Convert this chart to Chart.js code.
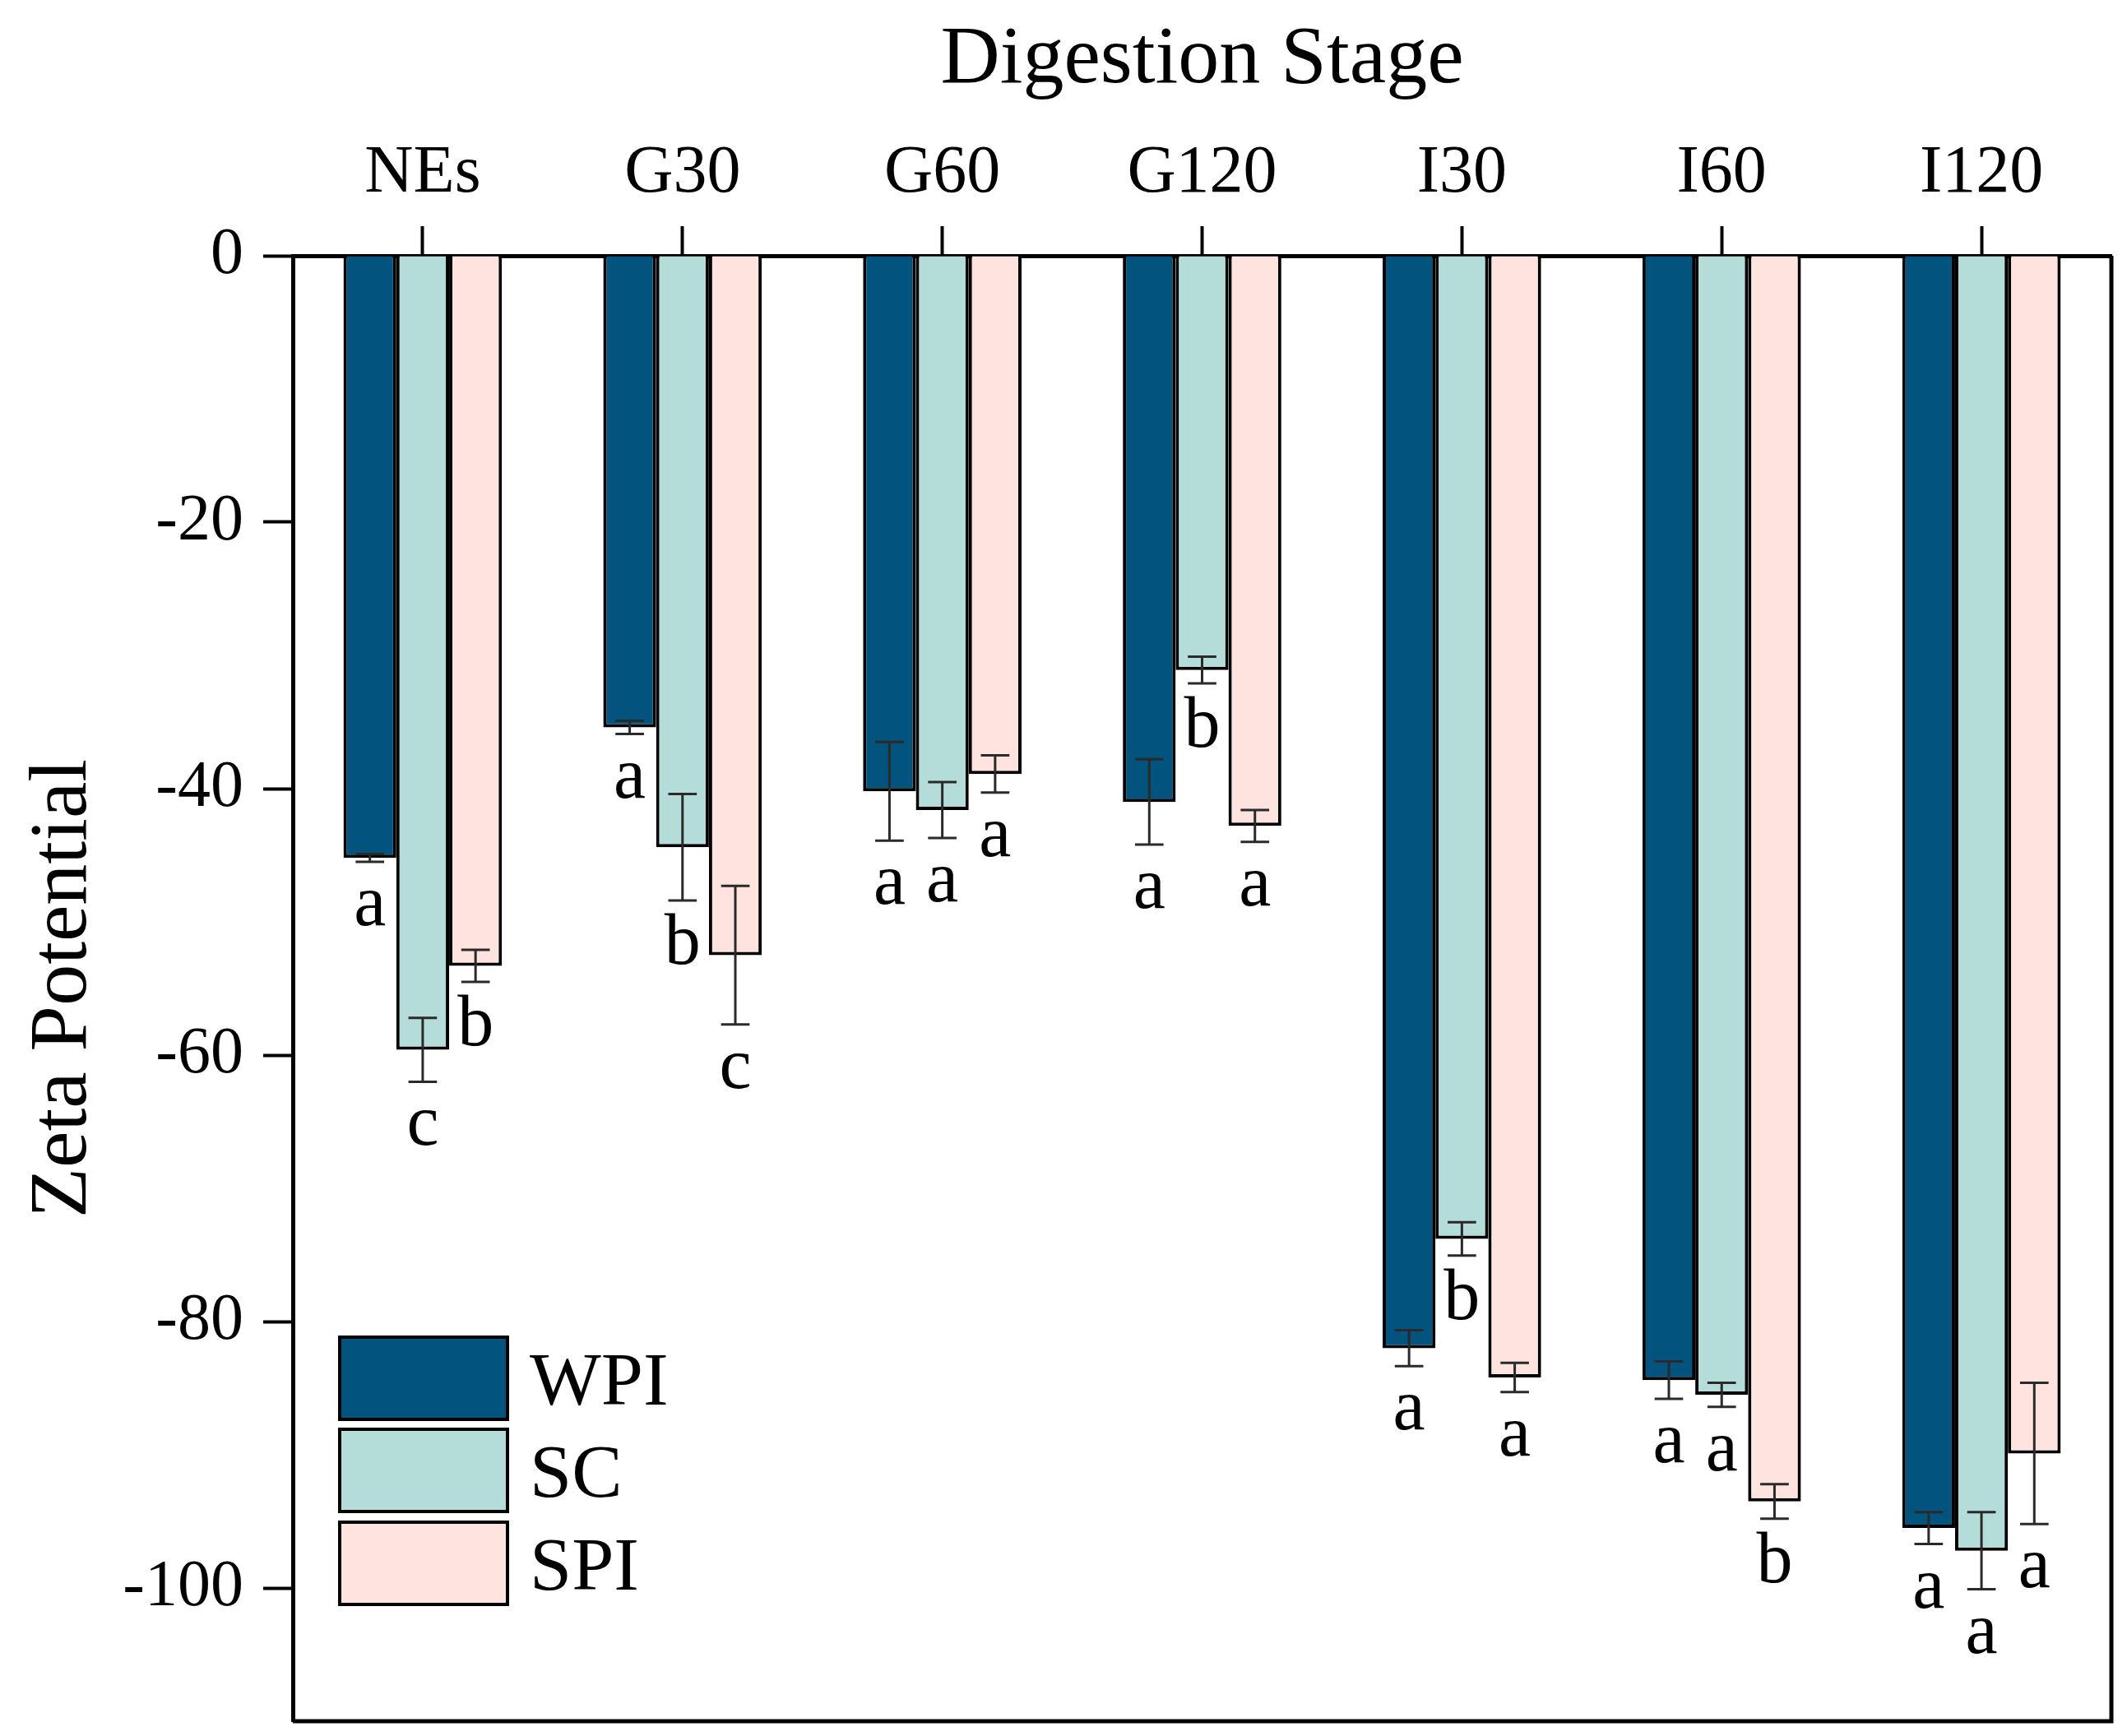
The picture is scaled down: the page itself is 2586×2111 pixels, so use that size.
<!DOCTYPE html>
<html>
<head>
<meta charset="utf-8">
<script src="https://cdn.jsdelivr.net/npm/chart.js@4.4.0/dist/chart.umd.min.js"></script>
<style>
  html, body { margin: 0; padding: 0; background: #fff; }
  canvas { display: block; }
</style>
</head>
<body>
<canvas id="myChart" width="2586" height="2111" style="width:2586px;height:2111px"></canvas>
<script>
'use strict'

// digestion stages
const stages = ['NEs', 'G30', 'G60', 'G120', 'I30', 'I60', 'I120'];

// zeta potential (mean)
const wpiValues = [-45.2, -35.4, -40.2, -41.0, -82.0, -84.4, -95.5];
const scValues = [-59.6, -44.4, -41.6, -31.1, -73.8, -85.5, -97.2];
const spiValues = [-53.3, -52.5, -38.9, -42.8, -84.2, -93.5, -89.9];

// error (+/-)
const wpiErr = [0.3, 0.5, 3.7, 3.2, 1.35, 1.4, 1.2];
const scErr = [2.4, 4.0, 2.1, 1.0, 1.25, 0.9, 2.9];
const spiErr = [1.2, 5.2, 1.4, 1.2, 1.1, 1.3, 5.3];

// significance letters
const wpiSig = ['a', 'a', 'a', 'a', 'a', 'a', 'a'];
const scSig = ['c', 'b', 'a', 'b', 'b', 'a', 'a'];
const spiSig = ['b', 'c', 'a', 'a', 'a', 'b', 'a'];

// y tick labels
const yTicks = [0, -20, -40, -60, -80, -100];

const serif = 'Liberation Serif';
const errs = [wpiErr, scErr, spiErr];
const sigs = [wpiSig, scSig, spiSig];

// error bars + letters under each bar
const errorBars = {
  id: 'errorBars',
  afterDatasetsDraw(chart) {
    const ctx = chart.ctx;
    const y = chart.scales.y;
    ctx.save();
    chart.data.datasets.forEach(function (ds, d) {
      const meta = chart.getDatasetMeta(d);
      meta.data.forEach(function (bar, i) {
        const v = ds.data[i];
        const e = errs[d][i];
        const top = y.getPixelForValue(v + e);
        const bot = y.getPixelForValue(v - e);
        const half = bar.width * 0.27;
        ctx.strokeStyle = '#2a2a2a';
        ctx.lineWidth = 3;
        ctx.beginPath();
        ctx.moveTo(bar.x, top);
        ctx.lineTo(bar.x, bot);
        ctx.moveTo(bar.x - half, top);
        ctx.lineTo(bar.x + half, top);
        ctx.moveTo(bar.x - half, bot);
        ctx.lineTo(bar.x + half, bot);
        ctx.stroke();

        ctx.fillStyle = '#000';
        ctx.font = '88px "' + serif + '"';
        ctx.textAlign = 'center';
        ctx.textBaseline = 'alphabetic';
        ctx.fillText(sigs[d][i], bar.x, bot + 77);
      });
    });
    ctx.restore();
  }
};

// right and bottom spines, legend inside plot
const frame = {
  id: 'frame',
  afterDraw(chart) {
    const ctx = chart.ctx;
    const a = chart.chartArea;
    ctx.save();
    ctx.strokeStyle = '#000';
    ctx.lineWidth = 5;
    ctx.beginPath();
    ctx.moveTo(a.right, a.top);
    ctx.lineTo(a.right, a.bottom);
    ctx.lineTo(a.left, a.bottom);
    ctx.stroke();

    // legend
    const boxX = a.left + 57;
    const boxW = 204;
    const boxH = 100;
    const rowTops = [1626, 1738, 1851];
    chart.data.datasets.forEach(function (ds, d) {
      ctx.fillStyle = ds.backgroundColor;
      ctx.fillRect(boxX, rowTops[d], boxW, boxH);
      ctx.lineWidth = 4;
      ctx.strokeStyle = '#000';
      ctx.strokeRect(boxX, rowTops[d], boxW, boxH);
      ctx.fillStyle = '#000';
      ctx.font = '92px "' + serif + '"';
      ctx.textAlign = 'left';
      ctx.textBaseline = 'alphabetic';
      ctx.fillText(ds.label, boxX + boxW + 27, rowTops[d] + 82);
    });
    ctx.restore();
  }
};

let ctx = document.getElementById('myChart').getContext('2d');

// eslint-disable-next-line no-unused-vars
let chart = new Chart(ctx, {
  type: 'bar',
  data: {
    labels: stages,
    datasets: [{
      label: 'WPI',
      backgroundColor: '#02537e',
      borderColor: '#000',
      borderWidth: 4,
      data: wpiValues
    },
    {
      label: 'SC',
      backgroundColor: '#b4dcd8',
      borderColor: '#000',
      borderWidth: 4,
      data: scValues
    },
    {
      label: 'SPI',
      backgroundColor: '#fee3df',
      borderColor: '#000',
      borderWidth: 4,
      data: spiValues
    }]
  },
  options: {
    responsive: false,
    animation: false,
    devicePixelRatio: 1,
    categoryPercentage: 0.61,
    barPercentage: 1.0,
    layout: { padding: { left: 0, top: 0, right: 19, bottom: 18 } },
    plugins: {
      legend: { display: false },
      tooltip: { enabled: false }
    },
    scales: {
      x: {
        position: 'top',
        offset: true,
        grid: {
          offset: false,
          drawOnChartArea: false,
          drawTicks: true,
          tickLength: 36,
          tickWidth: 4,
          tickColor: '#000'
        },
        border: { display: true, color: '#000', width: 5 },
        ticks: {
          color: '#000',
          padding: 14,
          font: { family: serif, size: 82 }
        },
        title: {
          display: true,
          text: 'Digestion Stage',
          color: '#000',
          padding: { top: 14, bottom: 0 },
          font: { family: serif, size: 100 }
        },
        afterFit(scale) {
          scale.height = 311;
          scale.paddingLeft = 0;
          scale.paddingRight = 0;
        }
      },
      y: {
        min: -110,
        max: 0,
        grid: {
          drawOnChartArea: false,
          drawTicks: true,
          tickLength: 36,
          tickWidth: 4,
          tickColor: '#000'
        },
        border: { display: true, color: '#000', width: 5 },
        afterBuildTicks(axis) {
          axis.ticks = yTicks.map(function (v) { return { value: v }; });
        },
        ticks: {
          color: '#000',
          padding: 24,
          font: { family: serif, size: 80 }
        },
        title: {
          display: true,
          text: 'Zeta Potential',
          color: '#000',
          padding: { top: 18, bottom: 0 },
          font: { family: serif, size: 100 }
        },
        afterFit(scale) {
          scale.width = 356;
          scale.paddingTop = 0;
          scale.paddingBottom = 0;
        }
      }
    }
  },
  plugins: [errorBars, frame]
});
</script>
</body>
</html>
